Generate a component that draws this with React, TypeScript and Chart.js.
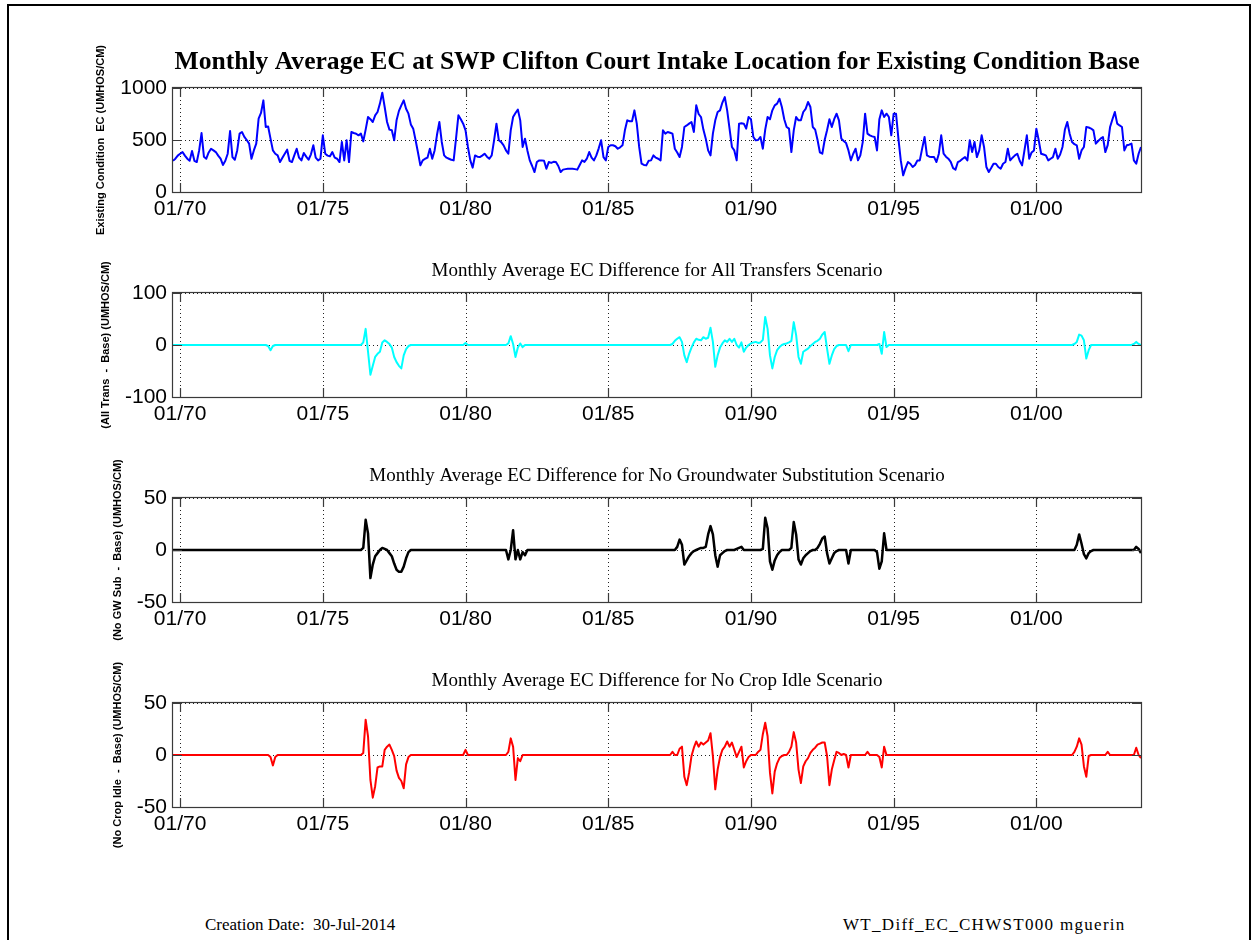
import React, { useEffect, useRef } from 'react';
import { Chart, registerables } from 'chart.js';

Chart.register(...registerables);

// ---------- data ----------
// monthly values, Oct 1969 .. Sep 2003 (one water year per row)
const START_OFFSET = -3; // Oct 1969, in months relative to Jan 1970
const END_OFFSET = 404; // Sep 2003

const xTickValues = [0, 60, 120, 180, 240, 300, 360];
const xTickLabels = ['01/70', '01/75', '01/80', '01/85', '01/90', '01/95', '01/00'];

const ecBaseTicks = [0, 500, 1000];
const allTransTicks = [-100, 0, 100];
const noGwSubTicks = [-50, 0, 50];
const noCropIdleTicks = [-50, 0, 50];

const ecBase = [
  300, 320, 350, 368, 384, 350, 320, 300, 394, 300, 288, 400,
  567, 340, 320, 380, 416, 400, 384, 350, 320, 260, 300, 368,
  586, 336, 310, 400, 561, 577, 530, 500, 465, 320, 400, 465,
  705, 760, 881, 625, 630, 513, 400, 368, 352, 288, 330, 368,
  407, 300, 288, 352, 416, 330, 304, 375, 340, 310, 362, 449,
  330, 304, 320, 545, 368, 350, 343, 384, 330, 320, 288, 481,
  304, 497, 288, 577, 567, 560, 545, 561, 487, 600, 721, 700,
  673, 737, 769, 850, 955, 817, 673, 600, 593, 497, 689, 780,
  833, 881, 801, 753, 650, 609, 497, 380, 256, 304, 320, 330,
  416, 320, 400, 550, 673, 481, 352, 330, 320, 310, 304, 513,
  737, 700, 657, 593, 433, 304, 234, 352, 340, 336, 350, 368,
  340, 320, 352, 497, 657, 497, 480, 449, 400, 368, 593, 721,
  760, 792, 689, 433, 513, 400, 304, 250, 192, 288, 304, 304,
  300, 224, 288, 280, 290, 288, 250, 192, 215, 220, 224, 224,
  224, 220, 215, 260, 304, 290, 320, 384, 330, 304, 352, 420,
  497, 336, 304, 433, 449, 449, 440, 416, 430, 449, 593, 689,
  680, 680, 785, 657, 433, 272, 260, 256, 300, 304, 352, 330,
  320, 304, 593, 561, 577, 570, 561, 416, 380, 336, 433, 625,
  640, 657, 673, 577, 833, 750, 721, 600, 513, 400, 352, 561,
  689, 769, 785, 860, 913, 785, 609, 433, 400, 304, 657, 660,
  657, 609, 721, 700, 529, 497, 500, 529, 416, 600, 721, 700,
  785, 833, 850, 897, 817, 700, 625, 609, 384, 593, 721, 689,
  689, 769, 800, 865, 817, 625, 600, 500, 380, 368, 500, 593,
  700, 625, 700, 753, 689, 513, 490, 470, 400, 304, 368, 416,
  304, 352, 480, 753, 561, 545, 535, 529, 400, 700, 785, 721,
  753, 721, 545, 753, 753, 513, 304, 160, 230, 288, 272, 240,
  260, 304, 304, 420, 529, 352, 340, 336, 336, 288, 368, 545,
  368, 340, 320, 290, 230, 215, 288, 300, 320, 336, 304, 497,
  384, 481, 336, 400, 545, 433, 240, 192, 230, 272, 272, 240,
  224, 272, 288, 416, 304, 330, 352, 368, 300, 256, 400, 545,
  320, 380, 400, 609, 497, 368, 360, 352, 304, 320, 336, 416,
  320, 360, 433, 600, 673, 561, 481, 460, 449, 320, 400, 433,
  625, 620, 610, 593, 465, 490, 513, 529, 384, 450, 625, 700,
  769, 657, 640, 625, 400, 449, 455, 465, 304, 272, 368, 433,
];

const allTransDiff = [
  0, 0, 0, 0, 0, 0, 0, 0, 0, 0, 0, 0,
  0, 0, 0, 0, 0, 0, 0, 0, 0, 0, 0, 0,
  0, 0, 0, 0, 0, 0, 0, 0, 0, 0, 0, 0,
  0, 0, 0, 0, -2, -10, -2, 0, 0, 0, 0, 0,
  0, 0, 0, 0, 0, 0, 0, 0, 0, 0, 0, 0,
  0, 0, 0, 0, 0, 0, 0, 0, 0, 0, 0, 0,
  0, 0, 0, 0, 0, 0, 0, 0, 5, 31, -13, -57,
  -40, -23, -17, -13, 5, 9, 6, 2, -5, -23, -33, -40,
  -45, -20, -8, -2, 0, 0, 0, 0, 0, 0, 0, 0,
  0, 0, 0, 0, 0, 0, 0, 0, 0, 0, 0, 0,
  0, 0, 0, 4, 0, 0, 0, 0, 0, 0, 0, 0,
  0, 0, 0, 0, 0, 0, 0, 0, 0, 3, 17, 2,
  -23, -5, 3, -4, 0, 0, 0, 0, 0, 0, 0, 0,
  0, 0, 0, 0, 0, 0, 0, 0, 0, 0, 0, 0,
  0, 0, 0, 0, 0, 0, 0, 0, 0, 0, 0, 0,
  0, 0, 0, 0, 0, 0, 0, 0, 0, 0, 0, 0,
  0, 0, 0, 0, 0, 0, 0, 0, 0, 0, 0, 0,
  0, 0, 0, 0, 0, 0, 2, 8, 12, 15, 6, -20,
  -33, -17, -5, 5, 12, 10, 9, 15, 12, 14, 33, 6,
  -42, -20, -5, 3, 9, 6, 12, 6, 12, 0, -5, 5,
  -13, -5, 0, 3, 5, 6, 4, 5, 10, 54, 31, -20,
  -45, -23, -10, -4, 0, 2, 3, 5, 8, 44, 19, -23,
  -36, -13, -10, -7, -2, 2, 6, 8, 12, 20, 25, -7,
  -36, -20, -8, -2, 0, 0, 0, 0, -12, 0, 0, 0,
  0, 0, 0, 0, 0, 0, 0, 0, 0, 2, -17, 25,
  -4, 0, 0, 0, 0, 0, 0, 0, 0, 0, 0, 0,
  0, 0, 0, 0, 0, 0, 0, 0, 0, 0, 0, 0,
  0, 0, 0, 0, 0, 0, 0, 0, 0, 0, 0, 0,
  0, 0, 0, 0, 0, 0, 0, 0, 0, 0, 0, 0,
  0, 0, 0, 0, 0, 0, 0, 0, 0, 0, 0, 0,
  0, 0, 0, 0, 0, 0, 0, 0, 0, 0, 0, 0,
  0, 0, 0, 0, 0, 0, 0, 2, 6, 20, 18, 9,
  -26, -10, 0, 0, 0, 0, 0, 0, 0, 0, 0, 0,
  0, 0, 0, 0, 0, 0, 0, 0, 2, 6, 2, 0,
];

const noGwSubDiff = [
  0, 0, 0, 0, 0, 0, 0, 0, 0, 0, 0, 0,
  0, 0, 0, 0, 0, 0, 0, 0, 0, 0, 0, 0,
  0, 0, 0, 0, 0, 0, 0, 0, 0, 0, 0, 0,
  0, 0, 0, 0, 0, 0, 0, 0, 0, 0, 0, 0,
  0, 0, 0, 0, 0, 0, 0, 0, 0, 0, 0, 0,
  0, 0, 0, 0, 0, 0, 0, 0, 0, 0, 0, 0,
  0, 0, 0, 0, 0, 0, 0, 0, 2, 29, 16, -27,
  -14, -6, -3, 0, 2, 1, 0, -3, -6, -13, -19, -21,
  -21, -16, -8, -2, 0, 0, 0, 0, 0, 0, 0, 0,
  0, 0, 0, 0, 0, 0, 0, 0, 0, 0, 0, 0,
  0, 0, 0, 0, 0, 0, 0, 0, 0, 0, 0, 0,
  0, 0, 0, 0, 0, 0, 0, 0, 0, -9, 0, 19,
  -9, 0, -9, -2, -5, 0, 0, 0, 0, 0, 0, 0,
  0, 0, 0, 0, 0, 0, 0, 0, 0, 0, 0, 0,
  0, 0, 0, 0, 0, 0, 0, 0, 0, 0, 0, 0,
  0, 0, 0, 0, 0, 0, 0, 0, 0, 0, 0, 0,
  0, 0, 0, 0, 0, 0, 0, 0, 0, 0, 0, 0,
  0, 0, 0, 0, 0, 0, 0, 0, 3, 10, 5, -14,
  -10, -6, -3, -1, 0, 1, 2, 2, 3, 15, 23, 15,
  -5, -16, -5, -3, -1, 0, 0, 0, 0, 1, 2, 3,
  0, 0, 0, 0, 0, 0, 0, 0, 1, 31, 21, -11,
  -19, -10, -5, -2, 0, 0, 0, 0, 2, 27, 15, -9,
  -14, -8, -5, -3, -1, 0, 0, 2, 6, 11, 13, -3,
  -13, -8, -3, -1, 0, 0, 0, 0, -13, 0, 0, 0,
  0, 0, 0, 0, 0, 0, 0, 0, -2, -18, -11, 16,
  0, 0, 0, 0, 0, 0, 0, 0, 0, 0, 0, 0,
  0, 0, 0, 0, 0, 0, 0, 0, 0, 0, 0, 0,
  0, 0, 0, 0, 0, 0, 0, 0, 0, 0, 0, 0,
  0, 0, 0, 0, 0, 0, 0, 0, 0, 0, 0, 0,
  0, 0, 0, 0, 0, 0, 0, 0, 0, 0, 0, 0,
  0, 0, 0, 0, 0, 0, 0, 0, 0, 0, 0, 0,
  0, 0, 0, 0, 0, 0, 0, 0, 5, 15, 6, -4,
  -8, -3, -1, 0, 0, 0, 0, 0, 0, 0, 0, 0,
  0, 0, 0, 0, 0, 0, 0, 0, 0, 3, 1, -3,
];

const noCropIdleDiff = [
  0, 0, 0, 0, 0, 0, 0, 0, 0, 0, 0, 0,
  0, 0, 0, 0, 0, 0, 0, 0, 0, 0, 0, 0,
  0, 0, 0, 0, 0, 0, 0, 0, 0, 0, 0, 0,
  0, 0, 0, 0, 0, -2, -10, -2, 0, 0, 0, 0,
  0, 0, 0, 0, 0, 0, 0, 0, 0, 0, 0, 0,
  0, 0, 0, 0, 0, 0, 0, 0, 0, 0, 0, 0,
  0, 0, 0, 0, 0, 0, 0, 0, 2, 34, 18, -24,
  -41, -30, -12, -11, -11, 5, 8, 10, 5, -1, -15, -22,
  -25, -32, -9, -2, 0, 0, 0, 0, 0, 0, 0, 0,
  0, 0, 0, 0, 0, 0, 0, 0, 0, 0, 0, 0,
  0, 0, 0, 5, 0, 0, 0, 0, 0, 0, 0, 0,
  0, 0, 0, 0, 0, 0, 0, 0, 0, 3, 16, 8,
  -24, -3, -6, 0, 0, 0, 0, 0, 0, 0, 0, 0,
  0, 0, 0, 0, 0, 0, 0, 0, 0, 0, 0, 0,
  0, 0, 0, 0, 0, 0, 0, 0, 0, 0, 0, 0,
  0, 0, 0, 0, 0, 0, 0, 0, 0, 0, 0, 0,
  0, 0, 0, 0, 0, 0, 0, 0, 0, 0, 0, 0,
  0, 0, 0, 0, 0, 0, 3, 0, 0, 6, 8, -21,
  -29, -17, -1, 7, 13, 8, 12, 10, 12, 14, 21, -1,
  -33, -14, -2, 5, 8, 13, 8, 12, 5, -2, 3, 8,
  -12, -6, -2, 0, 0, 0, 3, 5, 20, 31, 18, -17,
  -37, -16, -8, -3, -1, 0, 0, 3, 8, 22, 12, -14,
  -27, -11, -6, -3, 2, 5, 7, 10, 11, 12, 12, -1,
  -29, -14, -5, 3, 2, 0, 1, 0, -12, 0, 0, 0,
  0, 0, 0, 0, 3, 0, 0, 0, 0, -2, -12, 8,
  0, 0, 0, 0, 0, 0, 0, 0, 0, 0, 0, 0,
  0, 0, 0, 0, 0, 0, 0, 0, 0, 0, 0, 0,
  0, 0, 0, 0, 0, 0, 0, 0, 0, 0, 0, 0,
  0, 0, 0, 0, 0, 0, 0, 0, 0, 0, 0, 0,
  0, 0, 0, 0, 0, 0, 0, 0, 0, 0, 0, 0,
  0, 0, 0, 0, 0, 0, 0, 0, 0, 0, 0, 0,
  0, 0, 0, 0, 0, 0, 0, 3, 8, 16, 10, -11,
  -21, -1, 0, 0, 0, 0, 0, 0, 0, 3, 0, 0,
  0, 0, 0, 0, 0, 0, 0, 0, 0, 7, 0, -3,
];

// ---------- layout / style ----------
const PAGE_W = 1257;
const PAGE_H = 940;
const PLOT_LEFT = 173;
const PLOT_RIGHT = 1141;
const PLOT_H = 104;
const ABOVE = 62; // canvas space above plot area
const BELOW = 50; // canvas space below plot area
const CANVAS_H = ABOVE + PLOT_H + BELOW;
const TICK_LEN = 9;

type Panel = {
  title: string;
  yTitle: string;
  values: number[];
  yTicks: number[];
  color: string;
  lineWidth: number;
  plotTop: number;
  yTitleCenter: number;
  main: boolean;
};

const panels: Panel[] = [
  {
    title: 'Monthly Average EC at SWP Clifton Court Intake Location for Existing Condition Base',
    yTitle: 'Existing Condition  EC (UMHOS/CM)',
    values: ecBase, yTicks: ecBaseTicks, color: '#0000ff', lineWidth: 2,
    plotTop: 88, yTitleCenter: 101, main: true,
  },
  {
    title: 'Monthly Average EC Difference for All Transfers Scenario',
    yTitle: '(All Trans  -  Base) (UMHOS/CM)',
    values: allTransDiff, yTicks: allTransTicks, color: '#00ffff', lineWidth: 2,
    plotTop: 293, yTitleCenter: 105.5, main: false,
  },
  {
    title: 'Monthly Average EC Difference for No Groundwater Substitution Scenario',
    yTitle: '(No GW Sub  -  Base) (UMHOS/CM)',
    values: noGwSubDiff, yTicks: noGwSubTicks, color: '#000000', lineWidth: 2.5,
    plotTop: 498, yTitleCenter: 118, main: false,
  },
  {
    title: 'Monthly Average EC Difference for No Crop Idle Scenario',
    yTitle: '(No Crop Idle  -  Base) (UMHOS/CM)',
    values: noCropIdleDiff, yTicks: noCropIdleTicks, color: '#ff0000', lineWidth: 2,
    plotTop: 703, yTitleCenter: 118, main: false,
  },
];

const matlabFrame = {
  id: 'matlabFrame',
  beforeDatasetsDraw(chart: any) {
    const { ctx, chartArea: a, scales } = chart;
    const x = scales.x;
    const y = scales.y;
    ctx.save();
    ctx.strokeStyle = '#222';
    ctx.lineWidth = 1;
    ctx.setLineDash([1, 3]);
    ctx.beginPath();
    x.ticks.forEach((t: any) => {
      const px = Math.round(x.getPixelForValue(t.value)) + 0.5;
      ctx.moveTo(px, a.top);
      ctx.lineTo(px, a.bottom);
    });
    y.ticks.forEach((t: any) => {
      const py = Math.round(y.getPixelForValue(t.value)) + 0.5;
      ctx.moveTo(a.left, py);
      ctx.lineTo(a.right, py);
    });
    ctx.stroke();
    ctx.restore();
  },
  afterDatasetsDraw(chart: any) {
    const { ctx, chartArea: a, scales } = chart;
    const x = scales.x;
    const y = scales.y;
    ctx.save();
    ctx.setLineDash([]);
    ctx.strokeStyle = '#3a3a3a';
    ctx.lineWidth = 1.2;
    ctx.strokeRect(a.left - 0.5, a.top - 0.5, a.right - a.left + 1, a.bottom - a.top + 1);
    ctx.beginPath();
    x.ticks.forEach((t: any) => {
      const px = Math.round(x.getPixelForValue(t.value)) + 0.5;
      ctx.moveTo(px, a.bottom);
      ctx.lineTo(px, a.bottom - TICK_LEN);
      ctx.moveTo(px, a.top);
      ctx.lineTo(px, a.top + TICK_LEN);
    });
    y.ticks.forEach((t: any) => {
      const py = Math.round(y.getPixelForValue(t.value)) + 0.5;
      ctx.moveTo(a.left, py);
      ctx.lineTo(a.left + TICK_LEN, py);
      ctx.moveTo(a.right, py);
      ctx.lineTo(a.right - TICK_LEN, py);
    });
    ctx.stroke();
    ctx.restore();
  },
};

function makeConfig(p: Panel): any {
  const titleFont = p.main
    ? { family: "'Liberation Serif', 'Times New Roman', serif", size: 25.6, weight: 'bold', lineHeight: '30px' }
    : { family: "'Liberation Serif', 'Times New Roman', serif", size: 19, weight: 'normal', lineHeight: '22px' };
  const titleCenter = p.main ? 36 : 40; // distance of title centre from canvas top
  const lh = p.main ? 30 : 22;
  const padTop = titleCenter - lh / 2;
  const padBottom = ABOVE - padTop - lh;
  return {
    type: 'line',
    data: {
      datasets: [
        {
          data: p.values.map((v, i) => ({ x: i + START_OFFSET, y: v })),
          borderColor: p.color,
          backgroundColor: p.color,
          borderWidth: p.lineWidth,
          pointRadius: 0,
          tension: 0,
          fill: false,
          borderJoinStyle: 'round',
        },
      ],
    },
    options: {
      responsive: false,
      maintainAspectRatio: false,
      animation: false,
      events: [],
      layout: { padding: { left: 0, right: PAGE_W - PLOT_RIGHT, top: 0, bottom: 0 } },
      plugins: {
        legend: { display: false },
        tooltip: { enabled: false },
        title: {
          display: true,
          text: p.title,
          fullSize: false,
          color: '#000',
          font: titleFont,
          padding: { top: padTop, bottom: padBottom },
        },
      },
      scales: {
        x: {
          type: 'linear',
          min: START_OFFSET,
          max: END_OFFSET,
          grid: { display: false, drawTicks: false },
          border: { display: false },
          afterBuildTicks: (s: any) => {
            s.ticks = xTickValues.map((v) => ({ value: v }));
          },
          afterFit: (s: any) => {
            s.height = BELOW;
          },
          ticks: {
            autoSkip: false,
            maxRotation: 0,
            minRotation: 0,
            padding: 5,
            color: '#000',
            font: { family: "'Liberation Sans', Arial, sans-serif", size: 21, lineHeight: '24px' },
            callback: (_v: any, i: number) => xTickLabels[i],
          },
        },
        y: {
          type: 'linear',
          min: p.yTicks[0],
          max: p.yTicks[p.yTicks.length - 1],
          grid: { display: false, drawTicks: false },
          border: { display: false },
          afterBuildTicks: (s: any) => {
            s.ticks = p.yTicks.map((v) => ({ value: v }));
          },
          afterFit: (s: any) => {
            s.width = PLOT_LEFT;
          },
          ticks: {
            padding: 6,
            color: '#000',
            font: { family: "'Liberation Sans', Arial, sans-serif", size: 21, lineHeight: '24px' },
            callback: (v: any) => String(v),
          },
          title: {
            display: true,
            text: p.yTitle,
            color: '#000',
            font: { family: "'Liberation Sans', Arial, sans-serif", size: 11, weight: 'bold', lineHeight: '12px' },
            padding: { top: p.yTitleCenter - 6, bottom: 0 },
          },
        },
      },
    },
    plugins: [matlabFrame],
  };
}

function PanelChart({ panel }: { panel: Panel }) {
  const ref = useRef<HTMLCanvasElement | null>(null);
  useEffect(() => {
    if (!ref.current) return;
    const chart = new Chart(ref.current, makeConfig(panel));
    return () => chart.destroy();
  }, [panel]);
  return (
    <canvas
      ref={ref}
      width={PAGE_W}
      height={CANVAS_H}
      style={{
        position: 'absolute',
        left: 0,
        top: panel.plotTop - ABOVE,
        width: PAGE_W,
        height: CANVAS_H,
      }}
    />
  );
}

export default function App() {
  const footerFont: React.CSSProperties = {
    position: 'absolute',
    fontFamily: "'Liberation Serif', 'Times New Roman', serif",
    fontSize: 17,
    lineHeight: '20px',
    color: '#000',
    whiteSpace: 'pre',
  };
  return (
    <div
      style={{
        position: 'absolute',
        left: 0,
        top: 0,
        width: PAGE_W,
        height: PAGE_H,
        overflow: 'hidden',
        background: '#fff',
      }}
    >
      <div
        style={{
          position: 'absolute',
          left: 7,
          top: 4,
          width: 1244,
          height: 1000,
          border: '2px solid #000',
          boxSizing: 'border-box',
        }}
      />
      {panels.map((p, i) => (
        <PanelChart key={i} panel={p} />
      ))}
      <div style={{ ...footerFont, left: 205, top: 915 }}>{'Creation Date:  30-Jul-2014'}</div>
      <div style={{ ...footerFont, left: 843, top: 915, letterSpacing: '1.3px' }}>{'WT_Diff_EC_CHWST000 mguerin'}</div>
    </div>
  );
}
